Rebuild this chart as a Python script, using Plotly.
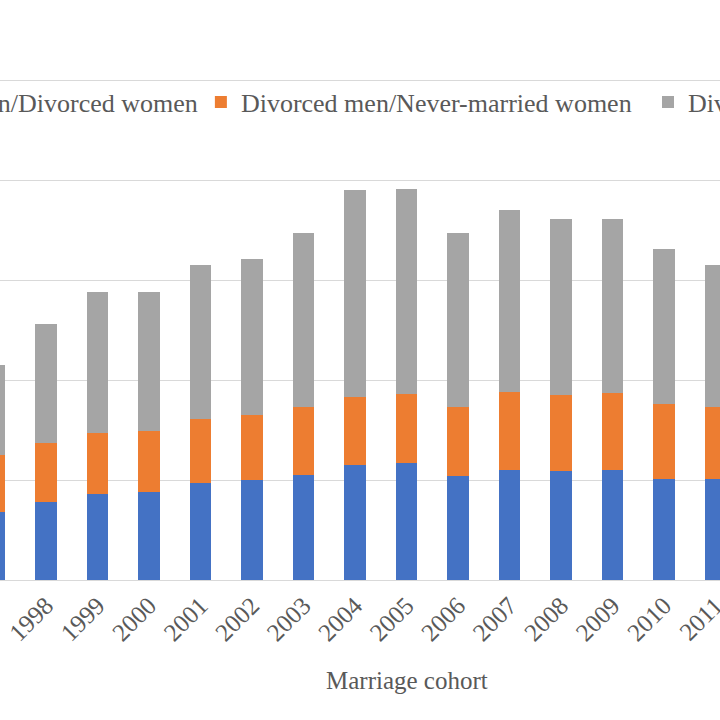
import plotly.graph_objects as go

# marriage cohorts (1997 and 2011 are only partly visible in the crop)
years = [1997, 1998, 1999, 2000, 2001, 2002, 2003, 2004,
         2005, 2006, 2007, 2008, 2009, 2010, 2011]
tick_years = [1998, 1999, 2000, 2001, 2002, 2003, 2004,
              2005, 2006, 2007, 2008, 2009, 2010, 2011]

# values (axis units unknown, gridlines every 5)
never_div = [3.4, 3.9, 4.3, 4.4, 4.85, 5.0, 5.25, 5.75,
             5.85, 5.2, 5.5, 5.45, 5.5, 5.05, 5.05]
div_never = [2.85, 2.95, 3.05, 3.05, 3.2, 3.25, 3.4, 3.4,
             3.45, 3.45, 3.9, 3.8, 3.85, 3.75, 3.6]
div_div = [4.5, 5.95, 7.05, 6.95, 7.7, 7.8, 8.7, 10.35,
           10.25, 8.7, 9.1, 8.8, 8.7, 7.75, 7.1]

series_names = ["Never-married men/Divorced women",
                "Divorced men/Never-married women",
                "Divorced men/Divorced women"]
colors = ["#4472C4", "#ED7D31", "#A5A5A5"]
legend_ids = ["legend", "legend2", "legend3"]
legend_x = [-0.3235, 0.279, 0.9]   # one legend per series so the row never wraps

font_name = "Liberation Serif"
txt_col = "#595959"

fig = go.Figure()
for name, vals, c, lg in zip(series_names, [never_div, div_never, div_div], colors, legend_ids):
    fig.add_trace(go.Bar(x=years, y=vals, name=name, width=0.41, legend=lg,
                         marker=dict(color=c, line=dict(width=0))))

leg_style = dict(orientation="h", xanchor="left", y=0.952, yanchor="middle",
                 font=dict(size=26, family=font_name, color=txt_col),
                 bgcolor="rgba(0,0,0,0)", borderwidth=0)

fig.update_layout(
    barmode="stack",
    width=720, height=720,
    margin=dict(l=0, r=0, t=78, b=140, pad=0, autoexpand=False),
    paper_bgcolor="white", plot_bgcolor="white",
    font=dict(family=font_name, color=txt_col),
    showlegend=True,
    legend=dict(x=legend_x[0], **leg_style),
    legend2=dict(x=legend_x[1], **leg_style),
    legend3=dict(x=legend_x[2], **leg_style),
    annotations=[dict(text="Marriage cohort", xref="paper", yref="paper",
                      x=407 / 720, y=-0.2, xanchor="center", yanchor="middle",
                      showarrow=False, font=dict(size=25, family=font_name, color=txt_col))],
)
fig.update_xaxes(range=[1997.107, 2011.087], tickmode="array", tickvals=tick_years,
                 ticktext=[str(y) for y in tick_years], tickangle=-45,
                 tickfont=dict(size=25, family=font_name, color=txt_col),
                 ticklabeloverflow="allow",
                 showgrid=False, showline=True, linecolor="#D9D9D9", linewidth=1,
                 ticks="", zeroline=False)
fig.update_yaxes(range=[0, 25.1], tickmode="array", tickvals=[0, 5, 10, 15, 20, 25],
                 showticklabels=False, showgrid=True,
                 gridcolor="#D9D9D9", gridwidth=1, zeroline=False, showline=False)

# the page body has a default 8px margin; drop it so the figure sits at the corner
fig.write_html("out.html", config={"displayModeBar": False},
               post_script="document.body.style.margin='0';")
